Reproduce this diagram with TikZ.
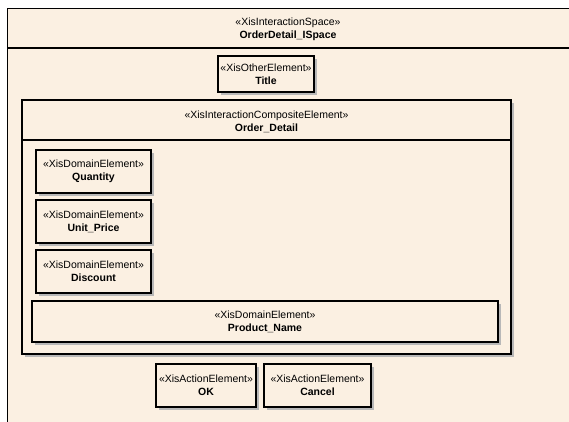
\documentclass[tikz,border=0pt]{standalone}
\usepackage{fontspec}
\setmainfont{Liberation Sans}
\definecolor{cream}{HTML}{FBF0E2}
\definecolor{shadowgray}{HTML}{B8B8B8}
\tikzset{
  shadowed/.style={preaction={fill=shadowgray, transform canvas={xshift=3pt,yshift=-3pt}}},
  umlbox/.style={draw=black, line width=1.4pt, fill=cream, rectangle, inner sep=0pt, shadowed},
  elem/.style={umlbox, align=center, font=\fontsize{10.5}{13}\selectfont},
  hdr/.style={align=center, inner sep=0pt, font=\fontsize{10.5}{13}\selectfont}
}
\begin{document}
\begin{tikzpicture}[x=1pt,y=-1pt]
\useasboundingbox (0,0) rectangle (569,421);
\fill[white] (0,0) rectangle (569,421);
\clip (0,0) rectangle (569,421);
% interaction space
\node[umlbox, anchor=north west, minimum width=600pt, minimum height=440pt] (space) at (7,8) {};
\node[hdr] (spacehdr) at (288,29.5) {«XisInteractionSpace»\\\textbf{OrderDetail\_ISpace}};
\draw[line width=1.4pt] (space.west |- 0,48) -- (space.east |- 0,48);
% title
\node[elem, minimum width=96pt, minimum height=36pt] (title) at (266,74) {«XisOtherElement»\\\textbf{Title}};
% composite
\node[umlbox, minimum width=489pt, minimum height=254pt] (comp) at (266.5,227) {};
\node[hdr] (comphdr) at (266.5,122) {«XisInteractionCompositeElement»\\\textbf{Order\_Detail}};
\draw[line width=1.4pt] (comp.west |- 0,140) -- (comp.east |- 0,140);
% domain elements
\node[elem, minimum width=115pt, minimum height=43pt] (qty) at (93.5,171.5) {«XisDomainElement»\\\textbf{Quantity}};
\node[elem, minimum width=115pt, minimum height=43pt] (unit) at (93.5,221.5) {«XisDomainElement»\\\textbf{Unit\_Price}};
\node[elem, minimum width=115pt, minimum height=43pt] (disc) at (93.5,271.5) {«XisDomainElement»\\\textbf{Discount}};
\node[elem, minimum width=466pt, minimum height=41pt] (prod) at (265,321.5) {«XisDomainElement»\\\textbf{Product\_Name}};
% actions
\node[elem, minimum width=100pt, minimum height=43pt] (ok) at (206,385.5) {«XisActionElement»\\\textbf{OK}};
\node[elem, minimum width=107pt, minimum height=43pt] (cancel) at (317.5,385.5) {«XisActionElement»\\\textbf{Cancel}};
\end{tikzpicture}
\end{document}
